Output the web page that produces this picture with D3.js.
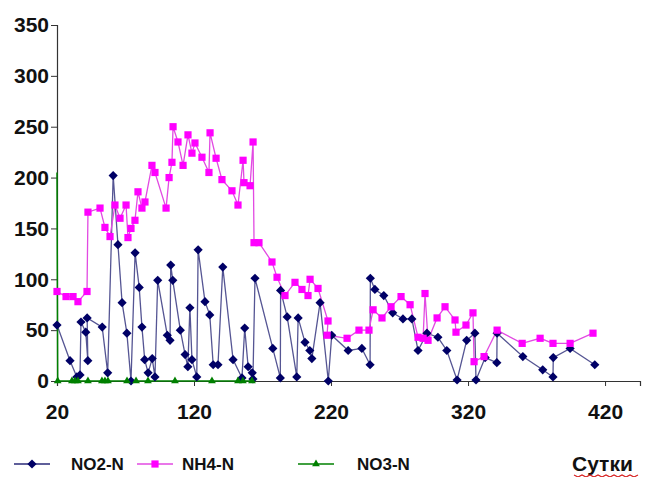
<!DOCTYPE html>
<html>
<head>
<meta charset="utf-8">
<script src="https://cdn.jsdelivr.net/npm/d3@7"></script>
<style>
  html, body { margin: 0; padding: 0; background: #ffffff; }
  svg { display: block; }
  .tick text { font-family: "Liberation Sans", Arial, sans-serif; font-weight: bold; }
</style>
</head>
<body>
<div id="chart"></div>
<script>
// ---- Data ----
const no2Days   = [20, 29.5, 34.5, 36.8, 37.5, 41, 42.5, 42, 53, 57, 61, 64.5, 67.5, 71, 74, 77, 80, 82, 84, 86.5, 89.5, 91.5, 93.5, 100.5, 102.5, 103, 104.5, 110, 113.5, 115.5, 117, 118.5, 122, 123, 128, 131.5, 134, 137.5, 141, 148.5, 155, 157, 159.5, 162.5, 163, 164.5, 177.5, 183, 183.2, 188, 195, 196, 201, 204.5, 206, 212, 218, 220.5, 232.5, 242.5, 248.5, 248.7, 252, 258.5, 265, 272.5, 279, 283.5, 290, 298, 304.5, 312, 319, 325, 325.8, 332.5, 341, 341.2, 360, 374.5, 382, 382.2, 394.5, 412.5];
const no2Values = [55, 20, 4, 6, 58, 48, 20, 62, 53, 8, 202, 134, 77, 47, 0, 126, 92, 53, 21, 8, 22, 4, 99, 45, 40, 114, 99, 50, 26, 14, 72, 21, 4, 129, 78, 65, 16, 16, 112, 21, 3, 52, 14, 8, 2, 101, 32, 3, 89, 63, 4, 62, 38, 30, 22, 77, 0, 45, 30, 32, 16, 101, 90, 84, 67, 61, 61, 30, 47, 43, 30, 1, 40, 47, 1, 23, 18, 47, 24, 11, 4, 23, 32, 16];

const nh4Days   = [20, 26.6, 31.7, 35.3, 41.9, 42.6, 51.4, 55, 58.7, 62.3, 66, 70.4, 71.8, 74, 76.9, 79.1, 82, 84.2, 89.3, 91.5, 99.6, 101.8, 103.9, 104.7, 108.3, 112, 115.6, 118.5, 120.7, 125.8, 130.9, 131.7, 136.1, 140.4, 147.7, 152.1, 155.8, 156.5, 160.9, 163.1, 163.8, 167.4, 176.9, 180.6, 186.4, 193.7, 198.8, 203.2, 204.7, 210.5, 217.8, 217.1, 231.7, 240.4, 247.7, 250.7, 257.2, 263.8, 271.1, 277.7, 283.5, 287.2, 288.6, 290.8, 297.4, 303.2, 310.5, 311.2, 318.5, 323.6, 324.4, 331.7, 341.2, 359.5, 372.6, 382, 394.5, 411.2];
const nh4Values = [88, 83, 83, 78, 88, 166, 170, 151, 142, 173, 160, 173, 141, 150, 158, 186, 170, 176, 212, 205, 170, 200, 215, 250, 235, 212, 242, 224, 234, 220, 205, 244, 219, 198, 187, 173, 217, 195, 192, 235, 136, 136, 117, 102, 84, 97, 90, 84, 100, 91, 59, 45, 42, 50, 50, 70, 62, 73, 83, 75, 43, 42, 86, 40, 62, 73, 60, 48, 55, 67, 19, 24, 50, 37, 42, 37, 37, 47];

const no3Days   = [20, 20.5, 30.9, 33.1, 35.3, 42.6, 52.8, 55, 57.2, 71.1, 77.7, 86.4, 106.1, 133.1, 152.1, 155.7, 162.3];
const no3Values = [205, 0, 0, 0, 0, 0, 0, 0, 0, 0, 0, 0, 0, 0, 0, 0, 0];

const xTicks = [20, 120, 220, 320, 420];
const yTicks = [0, 50, 100, 150, 200, 250, 300, 350];
const seriesNames = ["NO2-N", "NH4-N", "NO3-N"];
const xAxisTitle = "Сутки";

// ---- Layout ----
const W = 647, H = 477;
const svg = d3.select("#chart").append("svg").attr("width", W).attr("height", H);

const x = d3.scaleLinear().domain([20, 445.5]).range([57, 640]);
const y = d3.scaleLinear().domain([0, 350]).range([381, 25]);

const colors = { no2: "#000066", no2Line: "#2a2a78", nh4: "#ff00ff", nh4Line: "#e24ae2", no3: "#008000" };

// Axes
const yAxis = d3.axisLeft(y).tickValues(yTicks).tickSize(6).tickPadding(2).tickFormat(d3.format("d"));
const gy = svg.append("g").attr("transform", "translate(57,0)").call(yAxis);
gy.select(".domain").attr("stroke", "#333").attr("stroke-width", 1.2);
gy.selectAll(".tick line").attr("stroke", "#333");
gy.selectAll(".tick text").attr("font-size", 21).attr("fill", "#111");

const xAxis = d3.axisBottom(x).tickValues(xTicks).tickSize(5).tickPadding(18).tickFormat(d3.format("d"));
const gx = svg.append("g").attr("transform", "translate(0,381)").call(xAxis);
gx.select(".domain").attr("stroke", "#333").attr("stroke-width", 1.2);
gx.selectAll(".tick line").attr("stroke", "#333");
gx.selectAll(".tick text").attr("font-size", 21).attr("fill", "#111");

// Build series
const zip = (a, b) => a.map((d, i) => [d, b[i]]);
const no2 = zip(no2Days, no2Values);
const nh4 = zip(nh4Days, nh4Values);
const no3 = zip(no3Days, no3Values);

const line = d3.line().x(d => x(d[0])).y(d => y(d[1]));

svg.append("path").datum(no2).attr("d", line).attr("fill", "none")
  .attr("stroke", colors.no2Line).attr("stroke-width", 1.3).attr("stroke-opacity", 0.8);
svg.append("path").datum(nh4).attr("d", line).attr("fill", "none")
  .attr("stroke", colors.nh4Line).attr("stroke-width", 1.3);
svg.append("path").datum(no3).attr("d", line).attr("fill", "none")
  .attr("stroke", colors.no3).attr("stroke-width", 1.5);

const diamond = () => "M0,-4.6L4.6,0L0,4.6L-4.6,0Z";
const square = d3.symbol().type(d3.symbolSquare).size(52);
const triangle = d3.symbol().type(d3.symbolTriangle).size(26);

svg.append("g").selectAll("path").data(no2).join("path")
  .attr("transform", d => `translate(${x(d[0])},${y(d[1])})`)
  .attr("d", diamond).attr("fill", colors.no2);
svg.append("g").selectAll("path").data(nh4).join("path")
  .attr("transform", d => `translate(${x(d[0])},${y(d[1])})`)
  .attr("d", square).attr("fill", colors.nh4);
svg.append("g").selectAll("path").data(no3.slice(1)).join("path")
  .attr("transform", d => `translate(${x(d[0])},${y(d[1])})`)
  .attr("d", triangle).attr("fill", colors.no3);

// Legend
const legY = 464;
const legend = [
  { x0: 14, tx: 71, color: colors.no2Line, mc: colors.no2, sym: diamond, name: seriesNames[0] },
  { x0: 137, tx: 182, color: colors.nh4Line, mc: colors.nh4, sym: square, name: seriesNames[1] },
  { x0: 298, tx: 357, color: colors.no3, mc: colors.no3, sym: triangle, name: seriesNames[2] }
];
const lg = svg.append("g");
legend.forEach(l => {
  lg.append("line").attr("x1", l.x0).attr("x2", l.x0 + 36).attr("y1", legY).attr("y2", legY)
    .attr("stroke", l.color).attr("stroke-width", 1.5);
  lg.append("path").attr("transform", `translate(${l.x0 + 18},${legY})`).attr("d", l.sym).attr("fill", l.mc);
  lg.append("text").attr("x", l.tx).attr("y", legY + 6).text(l.name)
    .attr("font-family", "Liberation Sans, Arial, sans-serif").attr("font-weight", "bold")
    .attr("font-size", 17).attr("fill", "#111");
});
svg.append("text").attr("x", 572).attr("y", legY + 7).text(xAxisTitle)
  .attr("font-family", "Liberation Sans, Arial, sans-serif").attr("font-weight", "bold")
  .attr("font-size", 21).attr("fill", "#111");
// spell-check style wavy underline
const wave = d3.range(0, 17).map(i => [574 + i * 4, 475 + (i % 2 ? 2 : 0)]);
svg.append("path").attr("d", d3.line()(wave)).attr("fill", "none").attr("stroke", "#d62020").attr("stroke-width", 1.2);
</script>
</body>
</html>
